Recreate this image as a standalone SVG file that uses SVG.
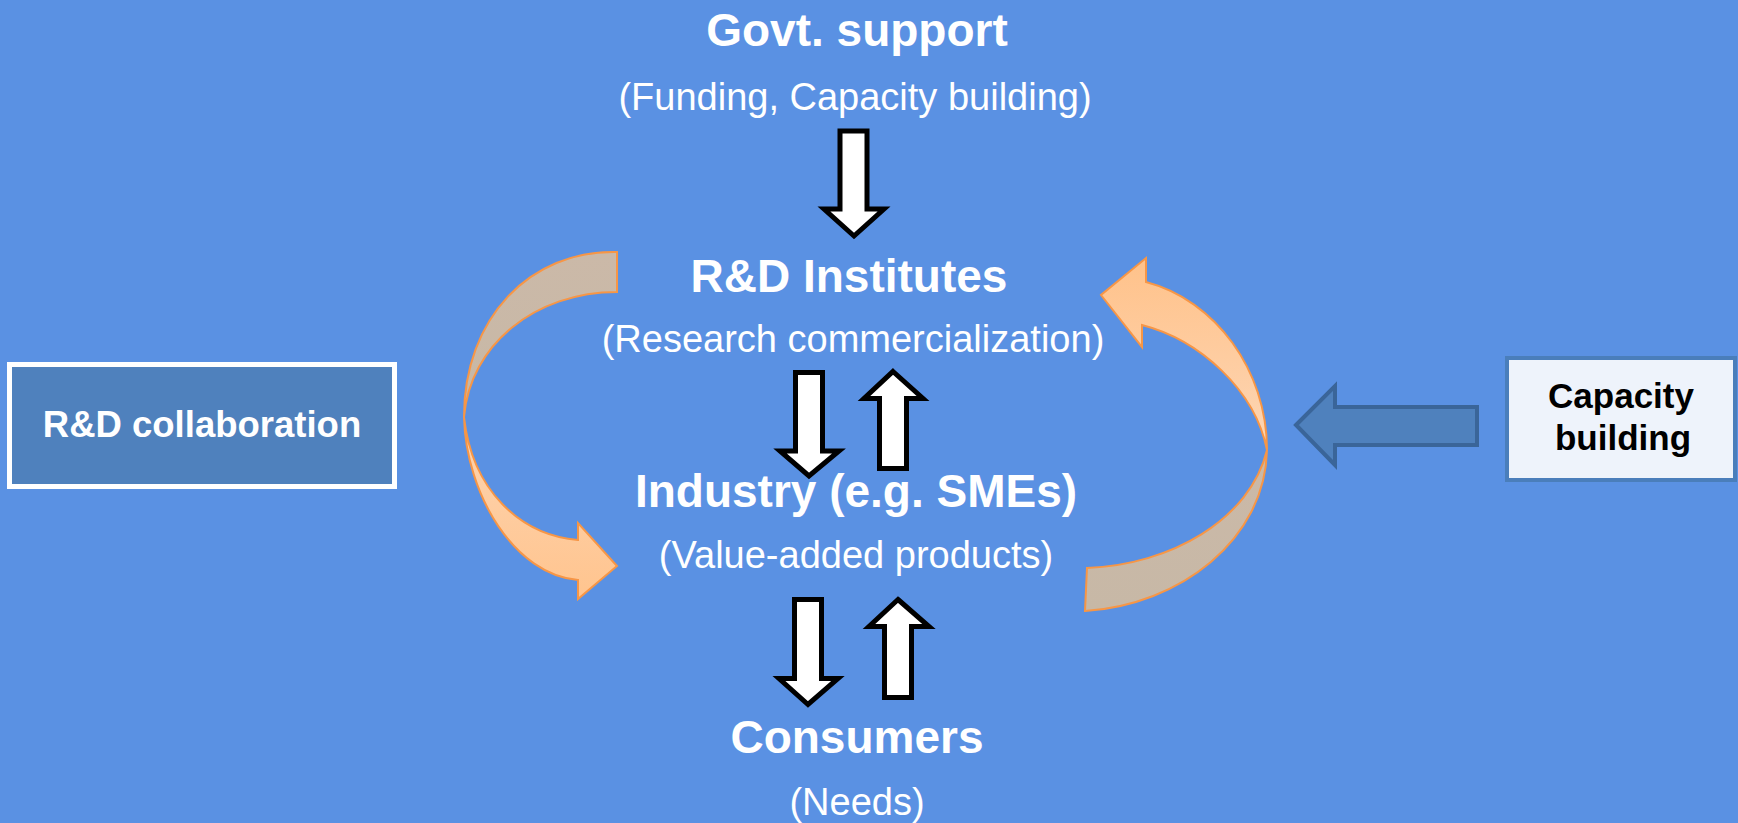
<svg xmlns="http://www.w3.org/2000/svg" width="1738" height="823" viewBox="0 0 1738 823">
<defs>
<style>
.title{font-family:"Liberation Sans",Arial,sans-serif;font-weight:bold;font-size:46px;fill:#FFFFFF;text-anchor:middle}
.sub{font-family:"Liberation Sans",Arial,sans-serif;font-size:38px;fill:#FFFFFF;text-anchor:middle}
.warrow{fill:#FFFFFF;stroke:#000000;stroke-width:5;stroke-linejoin:miter}
.back{fill:url(#gBack);stroke:#F79646;stroke-width:2}
.front{stroke:#F79646;stroke-width:2}
</style>
<linearGradient id="gBack" x1="0" y1="0" x2="0" y2="1">
<stop offset="0" stop-color="#CBB9A8"/>
<stop offset="1" stop-color="#C7B8A6"/>
</linearGradient>
<linearGradient id="gFrontL" x1="0" y1="0" x2="0" y2="1">
<stop offset="0" stop-color="#FDD5B2"/>
<stop offset="1" stop-color="#FFC48E"/>
</linearGradient>
<linearGradient id="gFrontR" x1="0" y1="1" x2="0" y2="0">
<stop offset="0" stop-color="#FDD6B5"/>
<stop offset="1" stop-color="#FFC28A"/>
</linearGradient>
</defs>
<rect x="0" y="0" width="1738" height="823" fill="#5A91E3"/>

<g id="connectors">
<path class="warrow" d="M840,131 L867,131 L867,209 L884,209 L854,236 L824,209 L840,209 Z"/>
<path class="warrow" d="M795.5,372.5 L822.5,372.5 L822.5,451 L839,451 L809,476 L780,451 L795.5,451 Z"/>
<path class="warrow" d="M893,371.5 L923,398.5 L906.5,398.5 L906.5,468.5 L879.5,468.5 L879.5,398.5 L864,398.5 Z"/>
<path class="warrow" d="M794.5,599.5 L821.5,599.5 L821.5,678.5 L838,678.5 L808,704.5 L779,678.5 L794.5,678.5 Z"/>
<path class="warrow" d="M898,599.5 L929,626.5 L911.5,626.5 L911.5,697.5 L884.5,697.5 L884.5,626.5 L869,626.5 Z"/>
<path d="M1296,425 L1335,386 L1335,407 L1477,407 L1477,445 L1335,445 L1335,465 Z" fill="#4F81BD" stroke="#3A6599" stroke-width="4"/>
<g id="curve-left">
<path class="back" d="M617,252 C530,250 464,318 464,417 C470,345 535,292 617,292 Z"/>
<path class="front" fill="url(#gFrontL)" d="M464,417 C466,495 515,575 578,580 L578,599 L617,566 L578,523 L578,540 C520,535 472,490 464,417 Z"/>
</g>
<g id="curve-right">
<path class="back" d="M1267,450 C1265,540 1180,605 1085,611 L1087,568 C1170,565 1250,520 1267,450 Z"/>
<path class="front" fill="url(#gFrontR)" d="M1267,450 C1267,370 1215,300 1146,282 L1146,258 L1101,295 L1142,347 L1142,325 C1200,340 1255,390 1267,450 Z"/>
</g>
</g>

<g id="govt">
<text class="title" x="857" y="46">Govt. support</text>
<text class="sub" x="855" y="110">(Funding, Capacity building)</text>
</g>
<g id="rd-institutes">
<text class="title" x="849" y="292">R&amp;D Institutes</text>
<text class="sub" x="853" y="352">(Research commercialization)</text>
</g>
<g id="industry">
<text class="title" x="856" y="507">Industry (e.g. SMEs)</text>
<text class="sub" x="856" y="568">(Value-added products)</text>
</g>
<g id="consumers">
<text class="title" x="857" y="753">Consumers</text>
<text class="sub" x="857" y="815">(Needs)</text>
</g>
<g id="rd-collaboration">
<rect x="9.5" y="364.5" width="385" height="122" fill="#4F81BD" stroke="#FFFFFF" stroke-width="5"/>
<text x="202" y="437" font-family="Liberation Sans, Arial, sans-serif" font-weight="bold" font-size="36.5" fill="#FFFFFF" text-anchor="middle">R&amp;D collaboration</text>
</g>
<g id="capacity-building">
<rect x="1507" y="358" width="228" height="122" fill="#EEF3FB" stroke="#4A7EBB" stroke-width="4"/>
<text x="1621" y="408" font-family="Liberation Sans, Arial, sans-serif" font-weight="bold" font-size="35" fill="#000000" text-anchor="middle">Capacity</text>
<text x="1623" y="450" font-family="Liberation Sans, Arial, sans-serif" font-weight="bold" font-size="35" fill="#000000" text-anchor="middle">building</text>
</g>
</svg>
